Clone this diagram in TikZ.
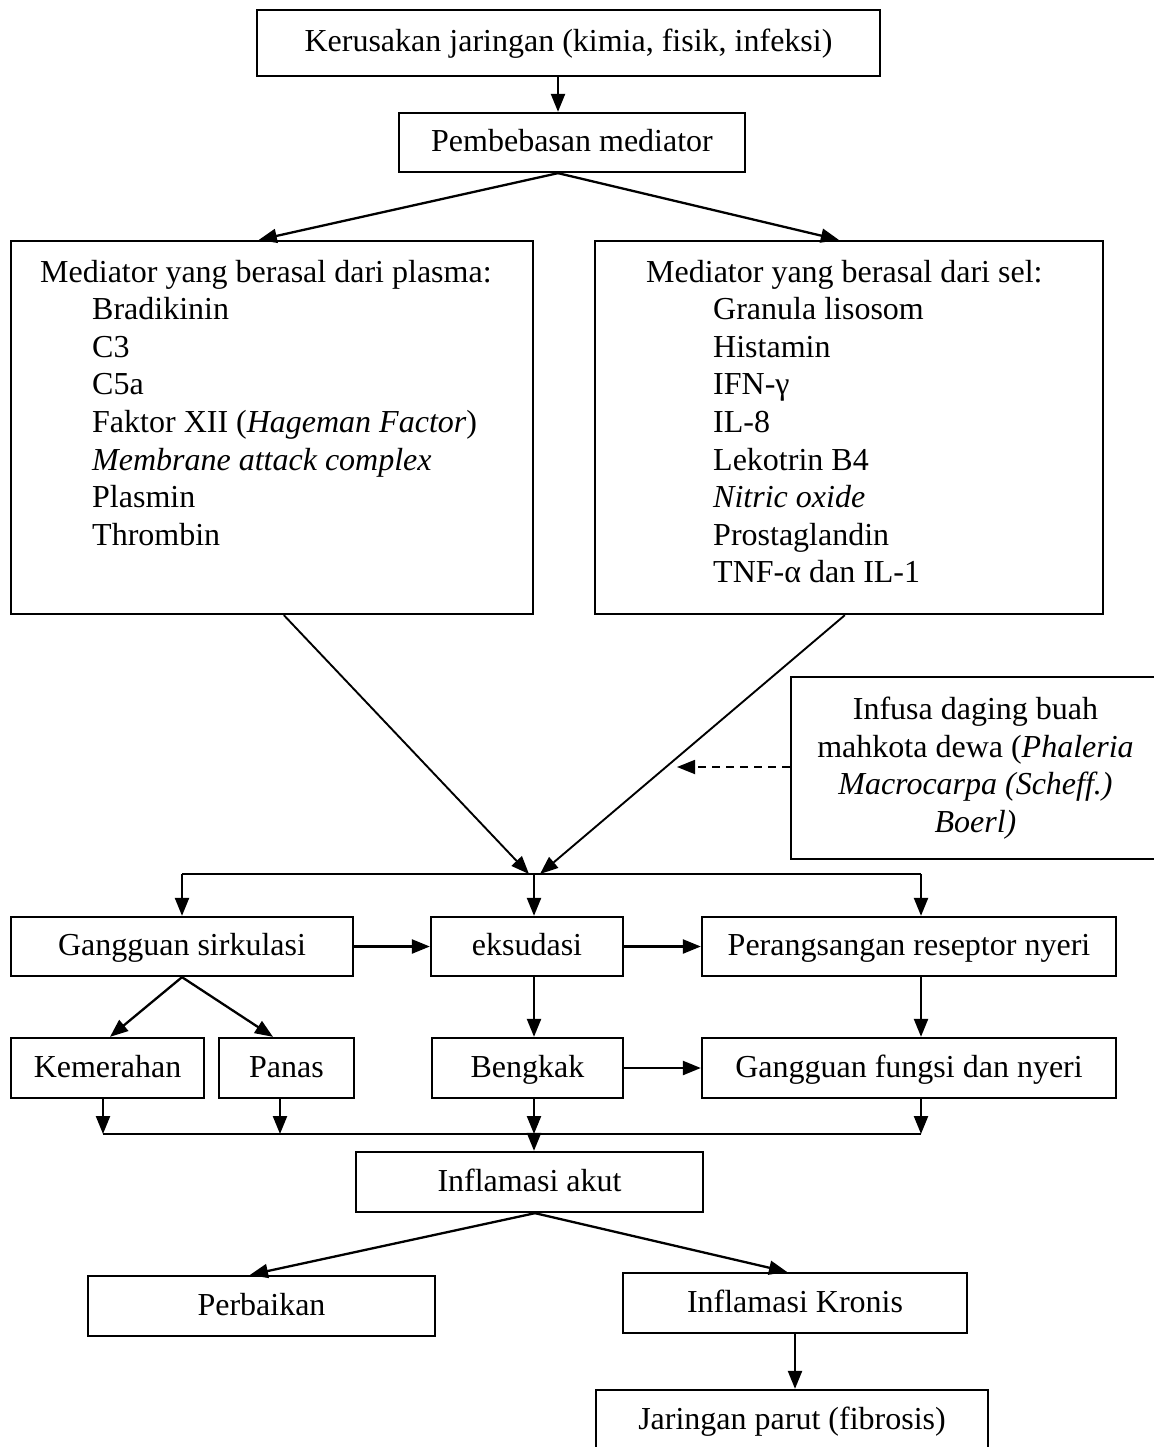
\documentclass[tikz,border=0pt]{standalone}
\usepackage{fontspec}
\setmainfont{Liberation Serif}
\usetikzlibrary{arrows.meta}
\begin{document}
\begin{tikzpicture}[x=1pt,y=-1pt,
  font=\fontsize{32}{37.5}\selectfont,
  box/.style={draw, line width=2.3pt, inner sep=0pt, text height=22pt, text depth=4pt},
  arr/.style={line width=2.3pt, -{Triangle[length=18pt,width=14pt]}},
  ln/.style={line width=2.3pt},
  lbl/.style={anchor=base west, inner sep=0pt}]
\useasboundingbox (0,0) rectangle (1153,1447);
\fill[white] (0,0) rectangle (1153,1447);

% top
\node[box, minimum width=623pt, minimum height=66pt] (ker) at (568.5,43) {Kerusakan jaringan (kimia, fisik, infeksi)};
\node[box, minimum width=346pt, minimum height=59pt] (pem) at (572,142.5) {Pembebasan mediator};
\node[box, minimum width=522pt, minimum height=373pt] (pla) at (272,427.5) {};
\node[box, minimum width=508pt, minimum height=373pt] (sel) at (849,427.5) {};

\node[lbl] (pl0) at (40,282) {Mediator yang berasal dari plasma:};
\foreach \t [count=\i] in {Bradikinin, C3, C5a, {Faktor XII (\textit{Hageman Factor})}, {\textit{Membrane attack complex}}, Plasmin, Thrombin}
  \node[lbl] (pl\i) at (92,{282+\i*37.6}) {\t};

\node[lbl] (se0) at (646,282) {Mediator yang berasal dari sel:};
\foreach \t [count=\i] in {Granula lisosom, Histamin, IFN-γ, IL-8, Lekotrin B4, {\textit{Nitric oxide}}, Prostaglandin, TNF-α dan IL-1}
  \node[lbl] (se\i) at (713,{282+\i*37.6}) {\t};

\draw[arr] ([xshift=-10.5pt]ker.south) -- ([xshift=-14pt]pem.north);
\draw[arr] ([xshift=-14pt]pem.south) -- ([xshift=249pt]pla.north west);
\draw[arr] ([xshift=-14pt]pem.south) -- ([xshift=245pt]sel.north west);

% infusa
\node[draw, line width=2.3pt, inner sep=0pt, minimum width=369pt, minimum height=182pt, align=center] (inf) at (975.5,768)
  {Infusa daging buah\\ mahkota dewa (\textit{Phaleria}\\ \textit{Macrocarpa (Scheff.)}\\ \textit{Boerl)}};

\coordinate (m1) at (529,874);
\coordinate (m2) at (540,874);
\coordinate (dt) at (677,767);
\draw[arr, line width=1.9pt] ([xshift=274pt]pla.south west) -- (m1);
\draw[arr, line width=1.9pt] ([xshift=251pt]sel.south west) -- (m2);
\draw[arr, line width=1.8pt, dash pattern=on 8pt off 6pt] (inf.west |- dt) -- (dt);

% row 1
\node[box, minimum width=342pt, minimum height=59pt] (gang) at (182,946.5) {Gangguan sirkulasi};
\node[box, minimum width=192pt, minimum height=59pt] (eks) at (527,946.5) {eksudasi};
\node[box, minimum width=414pt, minimum height=59pt] (pera) at (909,946.5) {Perangsangan reseptor nyeri};

\coordinate (d1) at (182,874);
\coordinate (d2) at (534,874);
\coordinate (d3) at (921,874);
\draw[ln] (d1) -- (d3);
\draw[arr] (d1) -- (gang.north);
\draw[arr] (d2) -- (eks.north -| d2);
\draw[arr] (d3) -- (pera.north -| d3);
\draw[arr] (gang.east) -- (eks.west);
\draw[arr] (eks.east) -- (pera.west);

% row 2
\node[box, minimum width=193pt, minimum height=60pt] (kem) at (107.5,1068) {Kemerahan};
\node[box, minimum width=135pt, minimum height=60pt] (pan) at (286.5,1068) {Panas};
\node[box, minimum width=191pt, minimum height=60pt] (beng) at (527.5,1068) {Bengkak};
\node[box, minimum width=414pt, minimum height=60pt] (gf) at (909,1068) {Gangguan fungsi dan nyeri};

\draw[arr] (gang.south) -- ([xshift=2.5pt]kem.north);
\draw[arr] (gang.south) -- ([xshift=-13.5pt]pan.north);
\draw[arr] (eks.south -| d2) -- (beng.north -| d2);
\draw[arr] (pera.south -| d3) -- (gf.north -| d3);
\draw[arr] (beng.east) -- (gf.west);

% collection
\coordinate (c1) at (103,1134);
\coordinate (c2) at (280,1134);
\coordinate (c3) at (534,1134);
\coordinate (c4) at (921,1134);
\draw[ln] (c1) -- (c4);
\draw[arr] (kem.south -| c1) -- (c1);
\draw[arr] (pan.south -| c2) -- (c2);
\draw[arr] (beng.south -| c3) -- (c3);
\draw[arr] (gf.south -| c4) -- (c4);

% bottom
\node[box, minimum width=347pt, minimum height=60pt] (akut) at (529.5,1182) {Inflamasi akut};
\node[box, minimum width=347pt, minimum height=60pt] (per) at (261.5,1306) {Perbaikan};
\node[box, minimum width=344pt, minimum height=60pt] (kro) at (795,1303) {Inflamasi Kronis};
\node[box, minimum width=392pt, minimum height=60pt] (jar) at (792,1420) {Jaringan parut (fibrosis)};

\draw[arr] (c3) -- (akut.north -| c3);
\draw[arr] ([xshift=5.5pt]akut.south) -- ([xshift=-11.5pt]per.north);
\draw[arr] ([xshift=5.5pt]akut.south) -- ([xshift=-8pt]kro.north);
\draw[arr] (kro.south) -- (kro.south |- jar.north);
\end{tikzpicture}
\end{document}
